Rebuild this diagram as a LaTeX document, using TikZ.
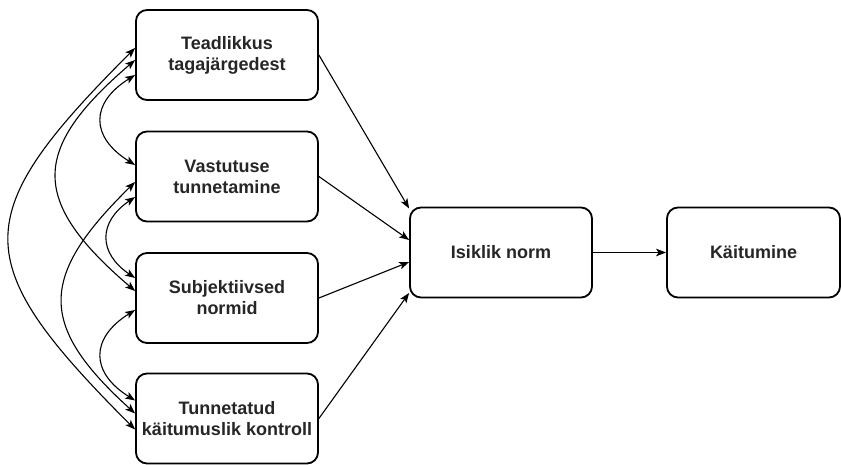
\documentclass[tikz,border=0pt]{standalone}
\usepackage{fontspec}
\setmainfont{Liberation Sans}
\usetikzlibrary{arrows.meta}
\begin{document}
\begin{tikzpicture}[x=1pt,y=-1pt,
  box/.style={draw=black, line width=1.8pt, rounded corners=11pt, fill=white,
    minimum width=182pt, minimum height=90pt, align=center, inner sep=2pt,
    font=\fontsize{18}{21}\selectfont\bfseries, text=black!85},
  conn/.style={line width=1.1pt, -{Stealth[length=10pt,width=7.5pt,inset=2.5pt]}},
  biconn/.style={line width=1.1pt, {Stealth[length=10pt,width=7.5pt,inset=2.5pt]}-{Stealth[length=10pt,width=7.5pt,inset=2.5pt]}}
]
\useasboundingbox (0,0) rectangle (841,465);
\node[box] (b1) at (227,55) {Teadlikkus\\tagajärgedest};
\node[box] (b2) at (227,176.5) {Vastutuse\\tunnetamine};
\node[box] (b3) at (227,298) {Subjektiivsed\\normid};
\node[box] (b4) at (227,418.5) {Tunnetatud\\käitumuslik kontroll};
\node[box] (isik) at (501,252.5) {Isiklik norm};
\node[box, minimum width=173pt] (kait) at (753.5,252.5) {Käitumine};
% to Isiklik norm
\draw[conn] (b1.east) -- ([yshift=44pt]isik.west);
\draw[conn] (b2.east) -- ([yshift=12.5pt]isik.west);
\draw[conn] (b3.east) -- ([yshift=-9.5pt]isik.west);
\draw[conn] (b4.east) -- ([yshift=-40.5pt]isik.west);
\draw[conn] (isik.east) -- (kait.west);
% correlations
\draw[biconn] ([yshift=7pt]b1.west) .. controls +(-168,168) and +(-168,-168) .. ([yshift=-11pt]b4.west);
\draw[biconn] ([yshift=-5pt]b1.west) .. controls +(-105,90) and +(-105,-90) .. ([yshift=7pt]b3.west);
\draw[biconn] ([yshift=-20pt]b1.west) .. controls +(-45,28) and +(-45,-28) .. ([yshift=11.5pt]b2.west);
\draw[biconn] ([yshift=-5.5pt]b2.west) .. controls +(-97,95) and +(-97,-88) .. ([yshift=5pt]b4.west);
\draw[biconn] ([yshift=-20.5pt]b2.west) .. controls +(-37,25) and +(-37,-25) .. ([yshift=20pt]b3.west);
\draw[biconn] ([yshift=-12pt]b3.west) .. controls +(-45,28) and +(-45,-28) .. ([yshift=18pt]b4.west);
\end{tikzpicture}
\end{document}
